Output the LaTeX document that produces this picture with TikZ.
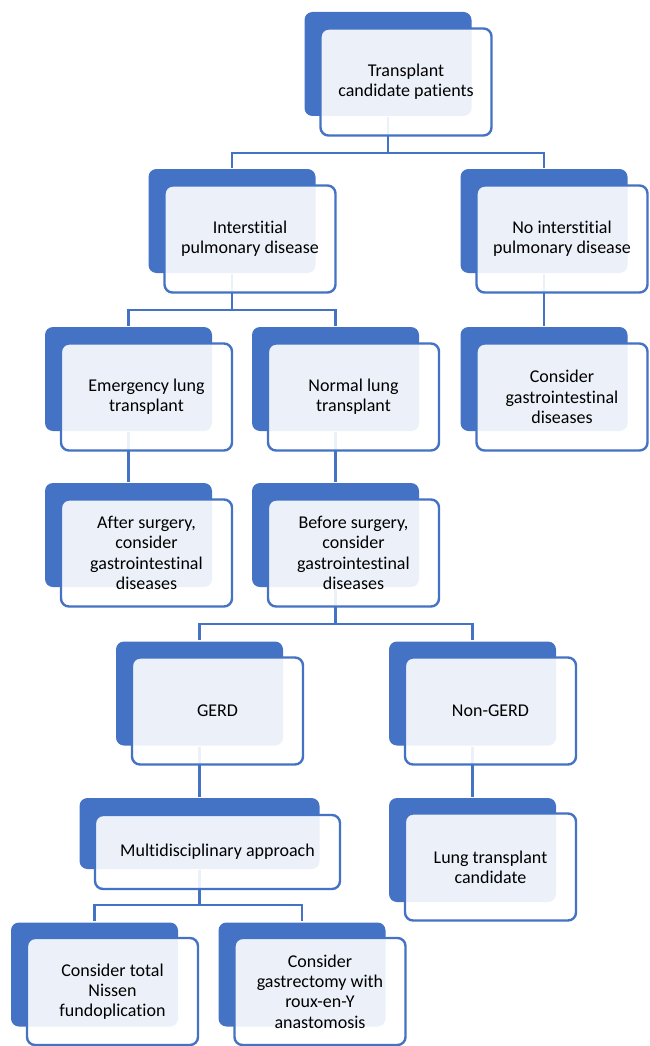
\documentclass[tikz,border=0pt]{standalone}
\usepackage{fontspec}
\setmainfont{Carlito}[Ligatures = NoCommon]
\definecolor{smblue}{HTML}{4472C4}

\begin{document}
\begin{tikzpicture}[x = 1pt, y = -1pt, line width = 2.4pt,
                        back/.style = {rectangle, rounded corners = 8pt, fill = smblue, inner sep = 0pt,
                                       minimum width = 167pt, minimum height = 104pt},
                        front/.style = {rectangle, rounded corners = 8pt, draw = smblue, fill = white,
                                        fill opacity = 0.9, text opacity = 1, text = black, align = center,
                                        minimum width = 171pt, minimum height = 107pt, inner sep = 2pt,
                                        font = \fontsize{18}{20.3}\selectfont},
                        link/.style = {draw = smblue}]
    \useasboundingbox (0, 0) rectangle (649, 1046);
    % back boxes
    \node [back] (tcp) at (388, 64){};
    \node [back] (ipd) at (232, 221){};
    \node [back] (nipd) at (544, 221){};
    \node [back] (cgd) at (544, 379){};
    \node [back] (elt) at (128.5, 379){};
    \node [back] (nlt) at (335.5, 379){};
    \node [back] (asg) at (128.5, 535){};
    \node [back] (bsg) at (335.5, 535){};
    \node [back] (gerd) at (199.5, 693.5){};
    \node [back] (ngerd) at (472.5, 693.5){};
    \node [back, minimum width = 240pt, minimum height = 71pt] (mda) at (199.5, 833.5){};
    \node [back] (ltc) at (472.5, 850){};
    \node [back] (tnf) at (94.5, 974.5){};
    \node [back] (grx) at (302, 974.5){};
    % connectors
    \draw [link] (tcp.south) -- ++(0, 36) -| (ipd.north);
    \draw [link] (tcp.south) -- ++(0, 36) -| (nipd.north);
    \draw [link] (nipd.south) -- (cgd.north);
    \draw [link] (ipd.south) -- ++(0, 36) -| (elt.north);
    \draw [link] (ipd.south) -- ++(0, 36) -| (nlt.north);
    \draw [link] (elt.south) -- (asg.north);
    \draw [link] (nlt.south) -- (bsg.north);
    \draw [link] (bsg.south) -- ++(0, 36) -| (gerd.north);
    \draw [link] (bsg.south) -- ++(0, 36) -| (ngerd.north);
    \draw [link] (gerd.south) -- (mda.north);
    \draw [link] (ngerd.south) -- (ltc.north);
    \draw [link] (mda.south) -- ++(0, 35) -| (tnf.north);
    \draw [link] (mda.south) -- ++(0, 35) -| (grx.north);
    % front boxes
    \node [front] (tcp-f) at (406, 82){Transplant\\candidate patients};
    \node [front] (ipd-f) at (250, 239){Interstitial\\pulmonary disease};
    \node [front] (nipd-f) at (562, 239){No interstitial\\pulmonary disease};
    \node [front] (cgd-f) at (562, 397){Consider\\gastrointestinal\\diseases};
    \node [front] (elt-f) at (146.5, 397){Emergency lung\\transplant};
    \node [front] (nlt-f) at (353.5, 397){Normal lung\\transplant};
    \node [front] (asg-f) at (146.5, 553){After surgery,\\consider\\gastrointestinal\\diseases};
    \node [front] (bsg-f) at (353.5, 553){Before surgery,\\consider\\gastrointestinal\\diseases};
    \node [front] (gerd-f) at (217.5, 711){GERD};
    \node [front] (ngerd-f) at (490.5, 711){Non-GERD};
    \node [front, minimum width = 245pt, minimum height = 74pt] (mda-f) at (217.5, 852){Multidisciplinary approach};
    \node [front] (ltc-f) at (490.5, 867){Lung transplant\\candidate};
    \node [front] (tnf-f) at (112.5, 991.5){Consider total\\Nissen\\fundoplication};
    \node [front] (grx-f) at (320, 991.5){Consider\\gastrectomy with\\roux-en-Y\\anastomosis};
\end{tikzpicture}
\end{document}
